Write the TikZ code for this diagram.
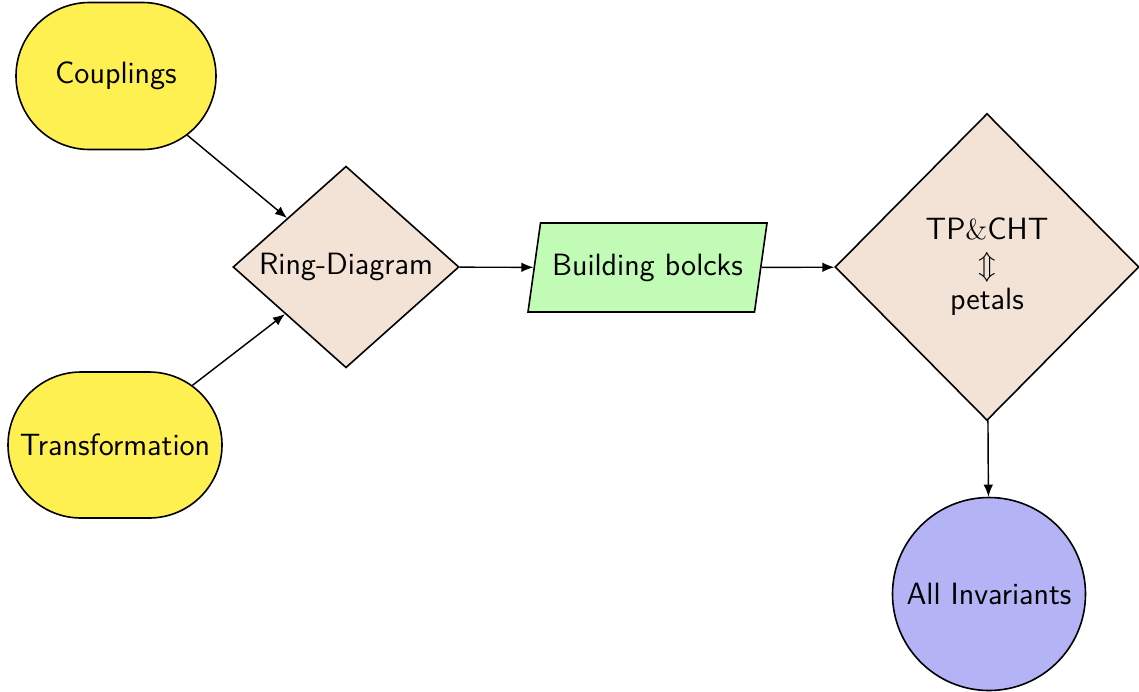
\documentclass[tikz,border=0pt]{standalone}
\usetikzlibrary{shapes.geometric,shapes.misc,arrows.meta}
\definecolor{cyel}{RGB}{255,240,82}
\definecolor{cdia}{RGB}{243,226,214}
\definecolor{cgrn}{RGB}{193,251,181}
\definecolor{cblu}{RGB}{179,179,246}
\begin{document}
\begin{tikzpicture}[x=0.5pt,y=-0.5pt,
  base/.style={draw=black, line width=0.8pt, font=\sffamily\fontsize{15.4}{17.5}\selectfont, text=black},
  term/.style={base, rounded rectangle, fill=cyel, inner sep=0pt},
  dec/.style={base, diamond, fill=cdia, inner sep=0pt, align=center},
  io/.style={base, trapezium, trapezium left angle=82, trapezium right angle=98, trapezium stretches body, fill=cgrn, inner xsep=0pt, inner ysep=15pt, text height=11pt, text depth=3.5pt},
  fin/.style={base, circle, fill=cblu, inner sep=0pt},
  conn/.style={line width=0.72pt, -{Latex[length=6pt,width=4.8pt]}}]
\useasboundingbox (0,0) rectangle (1139,691);
\node[term, minimum width=100pt, minimum height=73.5pt] (cpl) at (116,76) {Couplings};
\node[term, minimum width=107pt, minimum height=73pt] (trn) at (115,445) {Transformation};
\node[dec, minimum width=113pt, minimum height=100.5pt] (ring) at (346,267) {Ring-Diagram};
\node[io, minimum width=119.5pt] (bb) at (647.5,267.5) {Building bolcks};
\node[dec, minimum width=152pt, minimum height=153.5pt] (tp) at (987,267) {TP$\&$CHT\\$\Updownarrow$\\petals};
\node[fin, minimum size=96.5pt] (inv) at (989,594) {All Invariants};
\draw[conn] (cpl) -- (ring);
\draw[conn] (trn) -- (ring);
\draw[conn] (ring) -- (bb);
\draw[conn] (bb) -- (tp);
\draw[conn] (tp) -- (inv);
\end{tikzpicture}
\end{document}
